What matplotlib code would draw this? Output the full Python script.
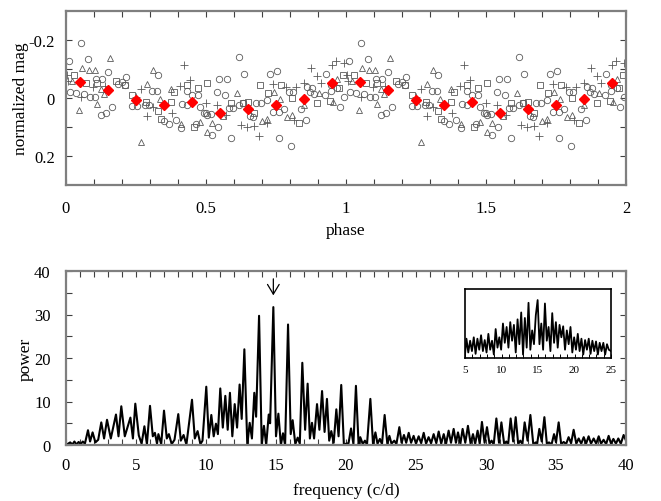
import numpy as np
import matplotlib
matplotlib.use("Agg")
import matplotlib.pyplot as plt

plt.rcParams['font.family'] = ['Liberation Serif', 'DejaVu Serif']
plt.rcParams['axes.unicode_minus'] = False

# ---------------- phase diagram data (phase 0-1, repeated for 1-2) -------------
circ_ph = [0.055, 0.079, 0.010, 0.151, 0.130, 0.106, 0.330, 0.216, 0.185, 0.200, 0.210,
           0.016, 0.035, 0.064, 0.086, 0.103, 0.124, 0.144, 0.165, 0.308, 0.326, 0.237,
           0.255, 0.281, 0.296, 0.350, 0.369, 0.392, 0.410, 0.416, 0.433, 0.431, 0.451,
           0.473, 0.479, 0.500, 0.463,
           0.618, 0.634, 0.547, 0.574, 0.540, 0.568, 0.729, 0.753, 0.812, 0.797, 0.862,
           0.880, 0.928, 0.945, 0.969, 0.590, 0.805, 0.761, 0.523, 0.544, 0.493, 0.505,
           0.517, 0.582, 0.598, 0.618, 0.633, 0.677, 0.697, 0.717, 0.657, 0.669, 0.741,
           0.761, 0.779, 0.841, 0.856, 0.871, 0.886, 0.924, 0.948, 0.979, 0.993]
circ_mag = [-0.189, -0.136, -0.128, -0.089, -0.067, -0.065, -0.078, -0.072, -0.050, -0.055, -0.045,
            -0.020, -0.018, -0.015, -0.003, -0.003, 0.060, 0.050, 0.031, -0.024, -0.024, 0.028,
            0.028, 0.025, 0.025, 0.080, 0.088, 0.077, 0.105, 0.019, 0.025, -0.025, -0.009,
            -0.011, 0.030, 0.050, 0.090,
            -0.141, -0.084, -0.065, -0.065, -0.021, -0.010, -0.084, -0.092, -0.020, -0.020, -0.038,
            -0.035, -0.082, -0.044, -0.035, 0.138, 0.166, 0.138, 0.129, 0.100, 0.050, 0.060,
            0.055, 0.033, 0.036, 0.025, 0.017, 0.016, 0.016, 0.007, 0.063, 0.066, 0.048,
            0.048, 0.039, 0.039, 0.077, -0.019, -0.015, -0.010, -0.023, 0.030, -0.003]

tri_ph = [0.156, 0.058, 0.082, 0.102, 0.046, 0.112, 0.312, 0.288, 0.336, 0.267, 0.410,
          0.479, 0.376, 0.124, 0.136, 0.610, 0.743, 0.904, 0.969, 0.955, 0.808, 0.788,
          0.764, 0.523, 0.503, 0.559, 0.701, 0.717, 0.850, 0.020]
tri_mag = [-0.138, -0.103, -0.098, -0.096, 0.040, 0.022, -0.098, -0.050, 0.004, 0.152, 0.088,
           0.083, -0.030, -0.030, -0.015, -0.018, -0.020, -0.017, -0.064, 0.014, 0.057, 0.065,
           0.002, 0.085, 0.117, 0.062, 0.080, 0.071, 0.025, -0.060]

sq_ph = [0.029, 0.070, 0.112, 0.178, 0.210, 0.237, 0.285, 0.329, 0.338, 0.374, 0.386,
         0.431, 0.473, 0.457, 0.505, 0.693, 0.721, 0.767, 0.808, 0.588, 0.633, 0.895,
         0.943, 0.988, 0.673, 0.832, 0.650, 0.975]
sq_mag = [-0.078, -0.053, -0.052, -0.058, -0.045, -0.011, 0.014, 0.045, 0.074, 0.014, -0.021,
          -0.044, -0.036, 0.100, -0.052, -0.044, -0.017, -0.044, -0.001, 0.016, 0.016, 0.017,
          0.011, -0.078, 0.053, 0.085, 0.014, -0.035]

plus_ph = [0.005, 0.007, 0.053, 0.097, 0.139, 0.269, 0.249, 0.291, 0.312, 0.380, 0.406,
           0.421, 0.443, 0.499, 0.538, 0.624, 0.648, 0.671, 0.689, 0.717, 0.741, 0.785,
           0.821, 0.850, 0.874, 0.898, 0.951, 0.993, 0.963, 0.910, 0.571, 0.814]
plus_mag = [-0.078, -0.057, -0.003, -0.038, -0.040, -0.032, -0.003, 0.062, 0.030, 0.052, -0.041,
            -0.113, -0.061, 0.016, 0.025, 0.094, 0.100, 0.098, 0.132, 0.086, -0.047, -0.039,
            -0.039, -0.053, -0.104, -0.076, -0.113, -0.122, -0.126, -0.053, 0.060, 0.077]

bin_ph = [0.05, 0.15, 0.25, 0.35, 0.45, 0.55, 0.65, 0.75, 0.85, 0.95]
bin_mag = [-0.055, -0.028, 0.008, 0.023, 0.015, 0.052, 0.038, 0.024, 0.004, -0.053]
bin_err = [0.008, 0.008, 0.008, 0.008, 0.008, 0.008, 0.008, 0.008, 0.008, 0.008]

# ---------------- periodogram data ---------------------------------------------
freq = [0.0, 0.3, 0.45, 0.6, 0.75, 0.9, 1.05, 1.2, 1.35, 1.57, 1.72, 1.9, 2.1, 2.3, 2.52,
        2.72, 2.93, 3.2, 3.57, 3.75, 3.95, 4.2, 4.6, 4.78, 4.95, 5.2, 5.4, 5.6, 5.78, 6.0,
        6.2, 6.35, 6.5, 6.6, 6.8, 7.0, 7.2, 7.35, 7.55, 7.75, 8.02, 8.2, 8.4, 8.6, 9.0,
        9.2, 9.4, 9.6, 9.75, 10.02, 10.2, 10.38, 10.55, 10.71, 10.85, 11.02, 11.2, 11.38,
        11.55, 11.71, 11.88, 12.05, 12.22, 12.4, 12.55, 12.74, 12.95, 13.12, 13.28, 13.45,
        13.58, 13.79, 13.98, 14.14, 14.3, 14.48, 14.58, 14.81, 15.0, 15.17, 15.35, 15.5,
        15.65, 15.86, 16.05, 16.19, 16.38, 16.55, 16.7, 16.88, 17.08, 17.26, 17.42, 17.57,
        17.72, 17.93, 18.1, 18.29, 18.47, 18.64, 18.8, 18.95, 19.12, 19.31, 19.47, 19.66,
        19.85, 20.0, 20.18, 20.36, 20.53, 20.71, 20.9, 21.02, 21.2, 21.35, 21.5, 21.74,
        21.93, 22.1, 22.25, 22.42, 22.57, 22.76, 22.95, 23.1, 23.25, 23.45, 23.6, 23.81,
        23.97, 24.14, 24.3, 24.48, 24.65, 24.83, 25.0, 25.19, 25.37, 25.55, 25.72, 25.9,
        26.08, 26.26, 26.45, 26.62, 26.8, 26.98, 27.15, 27.33, 27.5, 27.69, 27.85, 28.0,
        28.17, 28.33, 28.52, 28.71, 28.9, 29.07, 29.23, 29.4, 29.55, 29.71, 29.9, 30.07,
        30.25, 30.4, 30.55, 30.74, 30.93, 31.1, 31.3, 31.45, 31.58, 31.76, 31.94, 32.12,
        32.3, 32.45, 32.6, 32.76, 32.97, 33.17, 33.38, 33.55, 33.65, 33.81, 33.98, 34.17,
        34.35, 34.5, 34.68, 34.86, 35.0, 35.19, 35.37, 35.55, 35.72, 35.9, 36.08, 36.26,
        36.45, 36.62, 36.8, 36.98, 37.15, 37.33, 37.5, 37.69, 37.87, 38.05, 38.22, 38.4,
        38.58, 38.76, 38.93, 39.1, 39.28, 39.45, 39.63, 39.83, 40.0]
power = [0.0, 0.6, 0.1, 0.8, 0.1, 0.7, 0.2, 0.8, 0.3, 3.4, 0.8, 2.9, 0.6, 1.2, 5.2,
         1.5, 5.8, 1.5, 7.0, 2.0, 8.9, 2.0, 6.3, 1.5, 9.5, 2.2, 0.3, 4.3, 0.2, 9.0,
         2.0, 2.8, 0.3, 2.5, 0.2, 7.9, 1.5, 2.5, 0.2, 1.2, 7.1, 1.0, 2.3, 0.1, 10.4,
         1.5, 3.2, 0.2, 1.0, 13.4, 1.7, 6.9, 2.0, 4.9, 2.5, 13.0, 4.0, 11.3,
         3.5, 12.0, 2.0, 9.4, 4.0, 13.9, 6.0, 22.0, 0.0, 5.1, 1.5, 12.0,
         6.5, 29.7, 0.0, 4.4, 0.0, 7.0, 5.0, 31.7, 2.0, 7.2, 0.0, 2.7,
         0.0, 27.7, 2.5, 5.7, 0.2, 1.7, 0.3, 18.9, 3.5, 14.1, 1.5, 5.1,
         1.5, 9.4, 3.5, 12.4, 3.0, 10.6, 1.0, 3.2, 0.5, 8.2, 2.0, 13.8,
         0.0, 0.3, 0.4, 3.8, 0.2, 13.6, 0.0, 1.8, 0.2, 1.0, 0.1, 10.6,
         0.2, 2.9, 0.3, 1.4, 0.2, 6.9, 0.3, 2.1, 0.3, 1.0, 0.2, 4.1,
         0.5, 2.3, 0.5, 2.8, 0.5, 2.1, 0.3, 2.0, 0.4, 2.8, 0.3, 1.8,
         0.4, 2.5, 0.4, 3.1, 0.3, 2.5, 0.3, 3.3, 0.5, 3.7, 0.5, 2.9,
         0.3, 3.7, 0.5, 4.4, 0.3, 2.5, 0.3, 3.3, 0.3, 5.3, 0.5, 4.1,
         0.3, 1.0, 0.1, 6.1, 0.5, 5.2, 0.2, 0.8, 0.1, 6.1, 0.8, 6.4,
         0.2, 1.0, 0.2, 5.2, 1.0, 6.9, 0.1, 0.6, 0.2, 3.7, 0.8, 6.4,
         0.2, 0.6, 0.1, 2.5, 0.6, 5.2, 0.2, 0.7, 0.2, 1.8, 0.4, 3.5,
         0.3, 1.5, 0.3, 1.8, 0.3, 2.0, 0.3, 1.5, 0.3, 2.0, 0.3, 1.2,
         0.2, 2.1, 0.3, 1.4, 0.3, 1.5, 0.3, 2.3, 1.0]

# ---------------- inset data (window / periodogram 5-25 c/d) --------------------
ins_freq = [5.0, 5.2, 5.45, 5.7, 5.95, 6.2, 6.45, 6.7, 6.95, 7.2, 7.45, 7.7, 7.95, 8.2,
            8.45, 8.7, 8.95, 9.2, 9.45, 9.7, 9.95, 10.2, 10.45, 10.7, 10.95, 11.2, 11.45,
            11.7, 11.95, 12.2, 12.45, 12.7, 12.95, 13.2, 13.45, 13.7, 13.95, 14.2, 14.45,
            14.7, 14.95, 15.2, 15.45, 15.7, 15.95, 16.2, 16.45, 16.7, 16.95, 17.2, 17.45,
            17.7, 17.95, 18.2, 18.45, 18.7, 18.95, 19.2, 19.45, 19.7, 19.95, 20.2, 20.45,
            20.7, 20.95, 21.2, 21.45, 21.7, 21.95, 22.2, 22.45, 22.7, 22.95, 23.2, 23.45,
            23.7, 23.95, 24.2, 24.45, 24.7, 25.0]
ins_pow = [0.05, 0.28, 0.08, 0.25, 0.10, 0.30, 0.06, 0.28, 0.12, 0.33, 0.10, 0.26, 0.08, 0.35,
           0.12, 0.25, 0.05, 0.42, 0.15, 0.30, 0.12, 0.50, 0.22, 0.45, 0.15, 0.52, 0.25,
           0.48, 0.08, 0.56, 0.20, 0.66, 0.05, 0.58, 0.15, 0.80, 0.12, 0.40, 0.20,
           0.62, 0.84, 0.20, 0.50, 0.12, 0.79, 0.25, 0.45, 0.10, 0.65, 0.22, 0.52,
           0.15, 0.48, 0.30, 0.46, 0.12, 0.40, 0.20, 0.45, 0.08, 0.30, 0.12, 0.35,
           0.10, 0.28, 0.05, 0.26, 0.12, 0.28, 0.06, 0.25, 0.10, 0.24, 0.05, 0.22,
           0.10, 0.22, 0.05, 0.20, 0.12, 0.10]

PEAK_FREQ = 14.81

# ---------------- figure -------------------------------------------------------
fig = plt.figure(figsize=(6.61, 5.02), dpi=100)
spine_c = '#7f7f7f'

def style(ax):
    for s in ax.spines.values():
        s.set_color(spine_c)
        s.set_linewidth(1.6)
    ax.tick_params(direction='in', length=4, width=0.8, colors='#404040',
                   labelcolor='black', labelsize=12, top=True, right=True)
    ax.tick_params(axis='x', pad=11)
    ax.tick_params(axis='y', pad=8)

# top panel
ax1 = fig.add_axes([66/661, 1-186/502, 560/661, 174/502])
style(ax1)
mk = dict(linestyle='none', mfc='none', mec='#5a5a5a', mew=0.6)
for off in (0.0, 1.0):
    ax1.plot(np.array(circ_ph)+off, circ_mag, marker='o', ms=4.6, **mk)
    ax1.plot(np.array(tri_ph)+off, tri_mag, marker='^', ms=4.6, **mk)
    ax1.plot(np.array(sq_ph)+off, sq_mag, marker='s', ms=4.4, **mk)
    ax1.plot(np.array(plus_ph)+off, plus_mag, marker='+', ms=5.5, **mk)
for off in (0.0, 1.0):
    ax1.errorbar(np.array(bin_ph)+off, bin_mag, yerr=bin_err, fmt='D', ms=5.5,
                 color='red', mec='red', ecolor='black', elinewidth=0.8, capsize=0, zorder=5)
ax1.set_xlim(0, 2)
ax1.set_ylim(0.3, -0.3)
ax1.set_xticks(np.arange(0, 2.01, 0.1))
ax1.set_xticklabels(['0' if abs(v) < 1e-9 else ('%g' % v if abs(v*2 - round(v*2)) < 1e-9 else '')
                     for v in np.arange(0, 2.01, 0.1)])
ax1.set_yticks([-0.2, -0.1, 0, 0.1, 0.2])
ax1.set_yticklabels(['-0.2', '', '0', '', '0.2'])
ax1.set_xlabel('phase', fontsize=12.5, labelpad=4)
ax1.set_ylabel('normalized mag', fontsize=12.5, labelpad=0)

# bottom panel
ax2 = fig.add_axes([66/661, 1-446/502, 560/661, 174/502])
style(ax2)
ax2.tick_params(axis='y', pad=11)
ax2.tick_params(axis='x', pad=9)
ax2.plot(freq, power, color='black', lw=1.5)
ax2.set_xlim(0, 40)
ax2.set_ylim(0, 40)
ax2.set_xticks(np.arange(0, 41, 1))
ax2.set_xticklabels([str(v) if v % 5 == 0 else '' for v in range(0, 41)])
ax2.set_yticks(np.arange(0, 41, 5))
ax2.set_yticklabels([str(v) if v % 10 == 0 else '' for v in range(0, 41, 5)])
ax2.set_xlabel('frequency (c/d)', fontsize=12.5, labelpad=6)
ax2.set_ylabel('power', fontsize=12.5, labelpad=0)
ax2.annotate('', xy=(PEAK_FREQ, 34.4), xytext=(PEAK_FREQ, 38.2),
             arrowprops=dict(arrowstyle='->,head_length=0.5,head_width=0.3',
                             color='black', lw=0.9, mutation_scale=14,
                             shrinkA=0, shrinkB=0))

# inset
ax3 = fig.add_axes([465/661, 1-359/502, 146/661, 69/502])
for s in ax3.spines.values():
    s.set_color('black')
    s.set_linewidth(1.2)
ax3.plot(ins_freq, ins_pow, color='black', lw=1.3)
ax3.set_xlim(5, 25)
ax3.set_ylim(0, 1)
ax3.set_yticks([])
ax3.set_xticks(np.arange(5, 26, 1))
ax3.set_xticklabels([str(v) if v % 5 == 0 else '' for v in range(5, 26)])
ax3.tick_params(axis='x', direction='in', length=3, width=0.7, labelsize=8, pad=5)

fig.savefig('out.png', dpi=100)
